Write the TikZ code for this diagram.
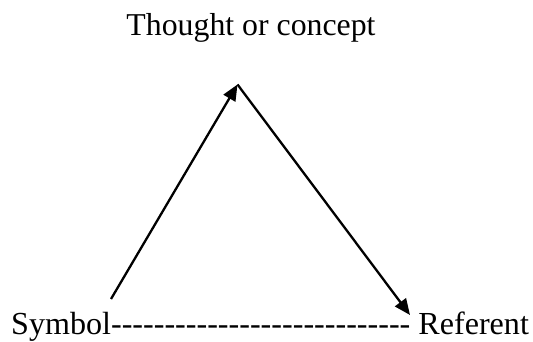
\documentclass[tikz,border=0pt]{standalone}
\usepackage{fontspec}
\setmainfont{Liberation Serif}
\usetikzlibrary{arrows.meta}
\def\dsh{-\kern0pt}
\def\dashes{\dsh\dsh\dsh\dsh\dsh\dsh\dsh\dsh\dsh\dsh\dsh\dsh\dsh\dsh\dsh\dsh\dsh\dsh\dsh\dsh\dsh\dsh\dsh\dsh\dsh\dsh\dsh\dsh}
\begin{document}
\begin{tikzpicture}[x=1pt,y=1pt,
  lbl/.style={inner sep=0pt,font=\fontsize{31.8}{38}\selectfont},
  arr/.style={line width=2.3pt,-{Triangle[length=16pt,width=13.5pt]}}]
\useasboundingbox (0,0) rectangle (533,342);
\node[lbl,anchor=base] (thought) at (251,306) {Thought or concept};
\node[lbl,anchor=base west,font=\fontsize{32.1}{38}\selectfont] (bottom) at (11,7.5) {Symbol\dashes{} Referent};
\coordinate (sym) at (111,43);
\coordinate (apex) at (237.5,257.5);
\coordinate (ref) at (410,27);
\draw[arr] (sym) -- (apex);
\draw[arr] (apex) -- (ref);
\end{tikzpicture}
\end{document}
